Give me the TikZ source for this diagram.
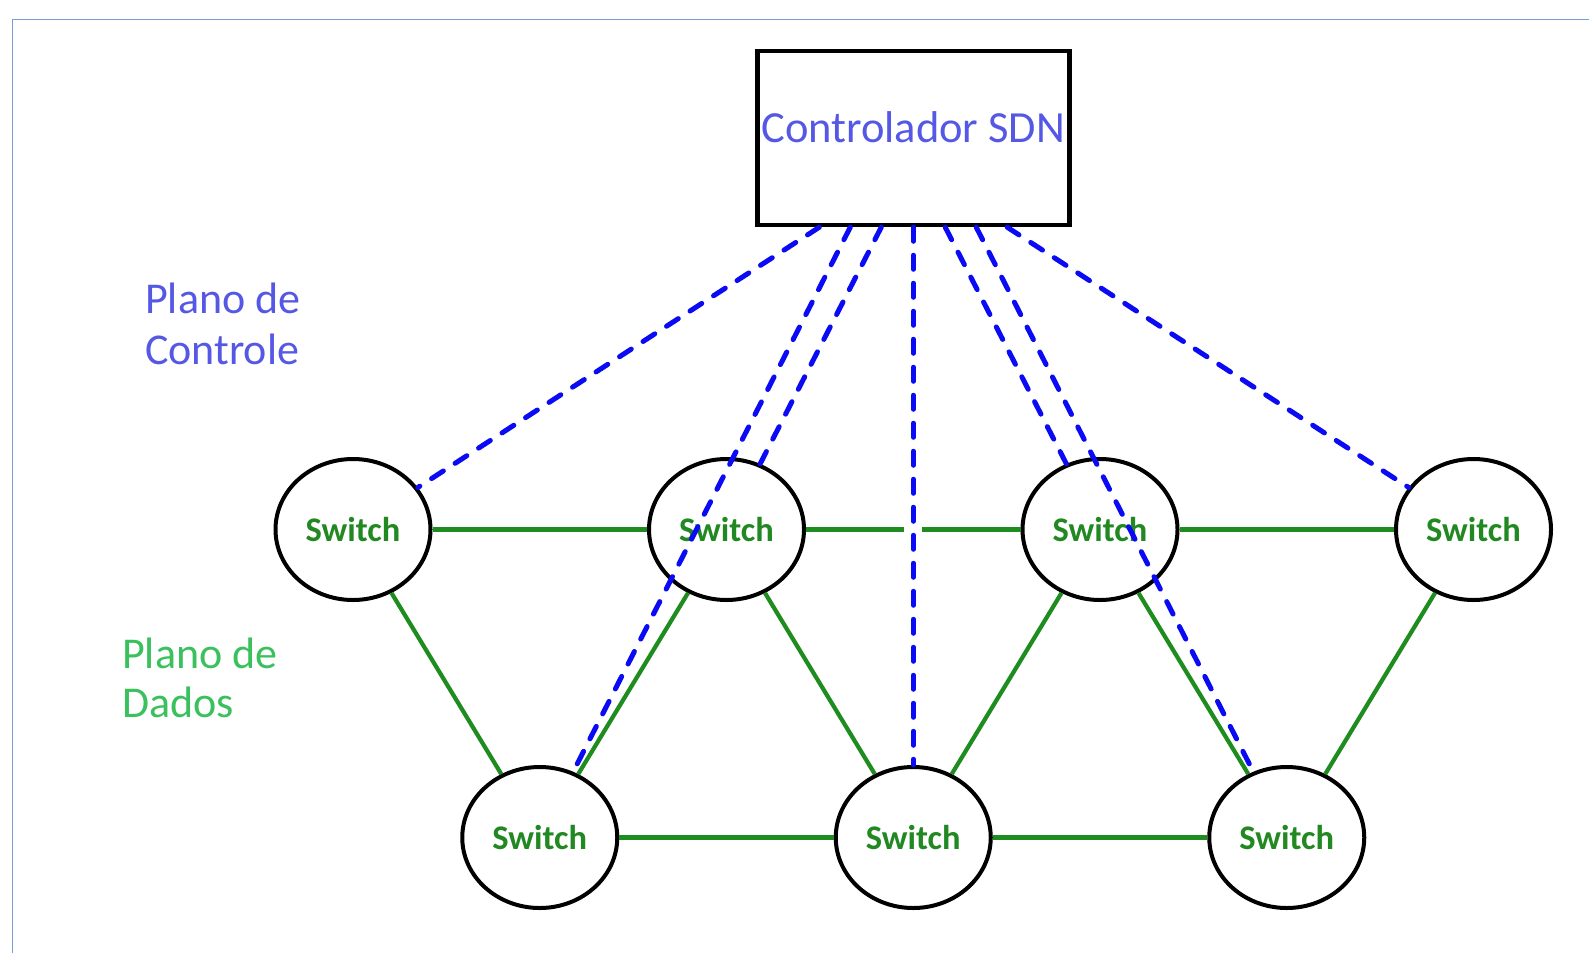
\documentclass[tikz,border=0pt]{standalone}
\usepackage{fontspec}
\setmainfont{Carlito}
\usetikzlibrary{shapes.geometric,calc}
\definecolor{frameblue}{RGB}{120,155,218}
\definecolor{ctrltxt}{RGB}{84,88,228}
\definecolor{datatxt}{RGB}{58,192,92}
\definecolor{swgreen}{RGB}{34,136,34}
\definecolor{linkgreen}{RGB}{30,140,30}
\definecolor{dashblue}{RGB}{10,10,245}
\begin{document}
\begin{tikzpicture}[x=1pt,y=-1pt,
  switchnode/.style={ellipse, draw=black, line width=4pt, minimum width=155pt, minimum height=141pt, inner sep=0pt, font=\fontsize{34.5}{41}\selectfont\bfseries, text=swgreen},
  ctrlbox/.style={rectangle, draw=black, line width=4.5pt, minimum width=312pt, minimum height=174pt, inner sep=0pt},
  ctrlfont/.style={font=\fontsize{44.5}{53}\selectfont, text=ctrltxt, inner sep=0pt},
  planefont/.style={font=\fontsize{44}{52}\selectfont, inner sep=0pt, anchor=base west},
  link/.style={draw=linkgreen, line width=4.2pt},
  ctrllink/.style={draw=dashblue, line width=5pt, dash pattern=on 14pt off 14pt, line cap=round}
]
\useasboundingbox (0,0) rectangle (1589,953);
\fill[white] (0,0) rectangle (1589,953);
\draw[frameblue, line width=1.8pt] (12.5,953) -- (12.5,19.5) -- (1589,19.5);

% controller
\node[ctrlbox] (ctrl) at (913.25,138) {};
\node[ctrlfont] (ctrllabel) at ([yshift=11pt]ctrl.center) {Controlador SDN};

% switches
\node[switchnode] (c1) at (353,529.5) {Switch};
\node[switchnode] (c2) at (726.5,529.5) {Switch};
\node[switchnode] (c3) at (1100,529.5) {Switch};
\node[switchnode] (c4) at (1473.5,529.5) {Switch};
\node[switchnode] (b1) at (539.75,837.5) {Switch};
\node[switchnode] (b2) at (913.25,837.5) {Switch};
\node[switchnode] (b3) at (1286.75,837.5) {Switch};

% plane labels
\node[planefont, text=ctrltxt] (pc1) at (145,313) {Plano de};
\node[planefont, text=ctrltxt] (pc2) at (145,364) {Controle};
\node[planefont, text=datatxt] (pd1) at (122,668) {Plano de};
\node[planefont, text=datatxt] (pd2) at (122,717) {Dados};

% data plane links
\draw[link] (c1) -- (c2);
\draw[link] (c2) -- (c3);
\draw[link] (c3) -- (c4);
\draw[link] (b1) -- (b2);
\draw[link] (b2) -- (b3);
\draw[link] (c1) -- (b1);
\draw[link] (c2) -- (b1);
\draw[link] (c2) -- (b2);
\draw[link] (c3) -- (b2);
\draw[link] (c3) -- (b3);
\draw[link] (c4) -- (b3);

% gap in the green line where the vertical control link crosses
\coordinate (gap) at (b2 |- c2);
\fill[white] ([xshift=-9pt,yshift=-4pt]gap) rectangle ([xshift=9pt,yshift=4pt]gap);

% control plane links
\draw[ctrllink] ([xshift=-94pt]ctrl.south) -- (c1);
\draw[ctrllink] ([xshift=-63pt]ctrl.south) -- (b1);
\draw[ctrllink] ([xshift=-32pt]ctrl.south) -- (c2);
\draw[ctrllink] (ctrl.south) -- (b2);
\draw[ctrllink] ([xshift=32pt]ctrl.south) -- (c3);
\draw[ctrllink] ([xshift=63pt]ctrl.south) -- (b3);
\draw[ctrllink] ([xshift=94pt]ctrl.south) -- (c4);
\end{tikzpicture}
\end{document}
